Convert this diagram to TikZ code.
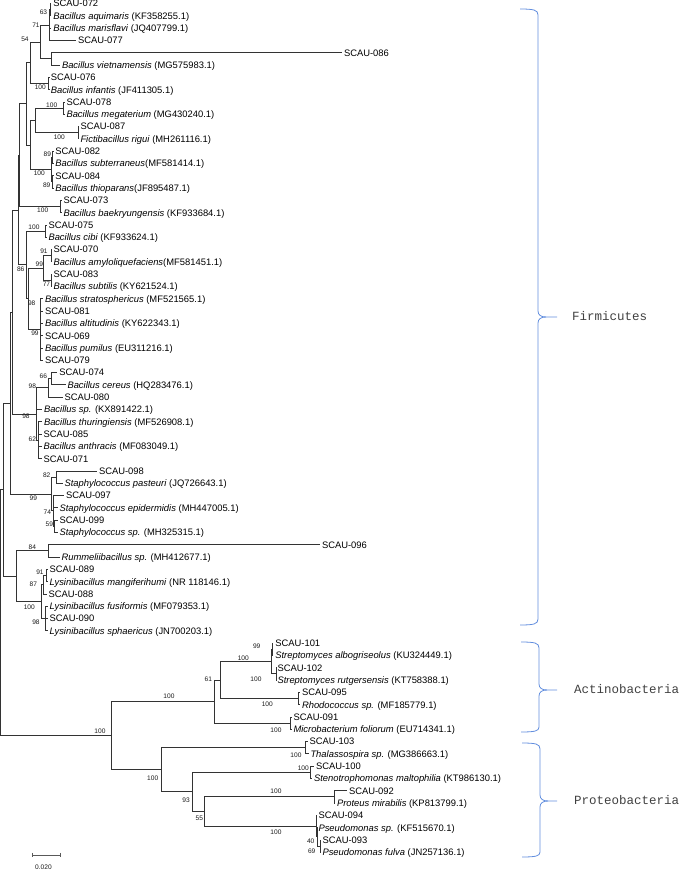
\documentclass[tikz,border=0pt]{standalone}
\usepackage{fontspec}
\setmainfont{Liberation Sans}
\newfontfamily\monof{Liberation Mono}
\definecolor{bracecol}{RGB}{98,142,222}
\newcommand\YY[1]{{3.5+12.3*((#1)-1)}}
\newcommand\lf[4]{\coordinate (#1) at (#2,\YY{#3}); \node[lab] (#1t) at (#1) {#4};}
\newcommand\nd[4]{\coordinate (#1) at (#2,\YY{#3}); \foreach \cc in {#4} {\draw[br] (#1) |- (\cc);}}
\begin{document}
\begin{tikzpicture}[x=1pt,y=-1pt,
 br/.style={draw=black!80,line width=0.8pt},
 lab/.style={font=\fontsize{9.4}{10}\selectfont, anchor=base west, inner sep=0pt, yshift=-3.4pt, xshift=1.8pt, text=black},
 bs/.style={font=\fontsize{6.6}{7}\selectfont, inner sep=0pt, text=black!90},
 brace/.style={draw=bracecol, line width=0.8pt},
 clade/.style={font=\monof\fontsize{12.5}{13}\selectfont, anchor=base west, inner sep=0pt, yshift=-3.6pt, text=black!75}]
\useasboundingbox (0,0) rectangle (680,870);
% ---------------- leaves
\lf{l1}{51.3}{1}{SCAU-072}
\lf{l2}{51.3}{2}{\textit{Bacillus aquimaris} (KF358255.1)}
\lf{l3}{51.3}{3}{\textit{Bacillus marisflavi} (JQ407799.1)}
\lf{l4}{76}{4}{SCAU-077}
\lf{l5}{342}{5}{SCAU-086}
\lf{l6}{60}{6}{\textit{Bacillus vietnamensis} (MG575983.1)}
\lf{l7}{48.8}{7}{SCAU-076}
\lf{l8}{48.8}{8}{\textit{Bacillus infantis} (JF411305.1)}
\lf{l9}{64.5}{9}{SCAU-078}
\lf{l10}{64.5}{10}{\textit{Bacillus megaterium} (MG430240.1)}
\lf{l11}{78.5}{11}{SCAU-087}
\lf{l12}{78.5}{12}{\textit{Fictibacillus rigui} (MH261116.1)}
\lf{l13}{53.3}{13}{SCAU-082}
\lf{l14}{53.3}{14}{\textit{Bacillus subterraneus}(MF581414.1)}
\lf{l15}{53.3}{15}{SCAU-084}
\lf{l16}{53.3}{16}{\textit{Bacillus thioparans}(JF895487.1)}
\lf{l17}{61.5}{17}{SCAU-073}
\lf{l18}{61.5}{18}{\textit{Bacillus baekryungensis} (KF933684.1)}
\lf{l19}{46.5}{19}{SCAU-075}
\lf{l20}{46.5}{20}{\textit{Bacillus cibi} (KF933624.1)}
\lf{l21}{51.5}{21}{SCAU-070}
\lf{l22}{51.5}{22}{\textit{Bacillus amyloliquefaciens}(MF581451.1)}
\lf{l23}{51.5}{23}{SCAU-083}
\lf{l24}{51.5}{24}{\textit{Bacillus subtilis} (KY621524.1)}
\lf{l25}{43}{25}{\textit{Bacillus stratosphericus} (MF521565.1)}
\lf{l26}{43}{26}{SCAU-081}
\lf{l27}{43}{27}{\textit{Bacillus altitudinis} (KY622343.1)}
\lf{l28}{43}{28}{SCAU-069}
\lf{l29}{43}{29}{\textit{Bacillus pumilus} (EU311216.1)}
\lf{l30}{43}{30}{SCAU-079}
\lf{l31}{57.3}{31}{SCAU-074}
\lf{l32}{65.5}{32}{\textit{Bacillus cereus} (HQ283476.1)}
\lf{l33}{62.5}{33}{SCAU-080}
\lf{l34}{42}{34}{\textit{Bacillus sp.} (KX891422.1)}
\lf{l35}{42}{35}{\textit{Bacillus thuringiensis} (MF526908.1)}
\lf{l36}{41.5}{36}{SCAU-085}
\lf{l37}{41.5}{37}{\textit{Bacillus anthracis} (MF083049.1)}
\lf{l38}{41.5}{38}{SCAU-071}
\lf{l39}{97}{39}{SCAU-098}
\lf{l40}{62.5}{40}{\textit{Staphylococcus pasteuri} (JQ726643.1)}
\lf{l41}{64}{41}{SCAU-097}
\lf{l42}{57.5}{42}{\textit{Staphylococcus epidermidis} (MH447005.1)}
\lf{l43}{57.5}{43}{SCAU-099}
\lf{l44}{57.5}{44}{\textit{Staphylococcus sp.} (MH325315.1)}
\lf{l45}{320}{45}{SCAU-096}
\lf{l46}{59.5}{46}{\textit{Rummeliibacillus sp.} (MH412677.1)}
\lf{l47}{47.5}{47}{SCAU-089}
\lf{l48}{47.5}{48}{\textit{Lysinibacillus mangiferihumi} (NR 118146.1)}
\lf{l49}{46.5}{49}{SCAU-088}
\lf{l50}{47.5}{50}{\textit{Lysinibacillus fusiformis} (MF079353.1)}
\lf{l51}{47.5}{51}{SCAU-090}
\lf{l52}{47.5}{52}{\textit{Lysinibacillus sphaericus} (JN700203.1)}
\lf{l53}{273.3}{53}{SCAU-101}
\lf{l54}{273.3}{54}{\textit{Streptomyces albogriseolus} (KU324449.1)}
\lf{l55}{275.5}{55}{SCAU-102}
\lf{l56}{275.5}{56}{\textit{Streptomyces rutgersensis} (KT758388.1)}
\lf{l57}{300}{57}{SCAU-095}
\lf{l58}{300}{58}{\textit{Rhodococcus sp.} (MF185779.1)}
\lf{l59}{291.5}{59}{SCAU-091}
\lf{l60}{291.5}{60}{\textit{Microbacterium foliorum} (EU714341.1)}
\lf{l61}{307.5}{61}{SCAU-103}
\lf{l62}{308.5}{62}{\textit{Thalassospira sp.} (MG386663.1)}
\lf{l63}{314}{63}{SCAU-100}
\lf{l64}{312}{64}{\textit{Stenotrophomonas maltophilia} (KT986130.1)}
\lf{l65}{347}{65}{SCAU-092}
\lf{l66}{335}{66}{\textit{Proteus mirabilis} (KP813799.1)}
\lf{l67}{316.5}{67}{SCAU-094}
\lf{l68}{316.5}{68}{\textit{Pseudomonas sp.} (KF515670.1)}
\lf{l69}{320.5}{69}{SCAU-093}
\lf{l70}{320.5}{70}{\textit{Pseudomonas fulva} (JN257136.1)}
% ---------------- internal nodes (Firmicutes)
\nd{n63}{50}{1.5}{l1,l2}
\nd{nA}{49.2}{2.75}{n63,l3,l4}
\nd{n086}{51.7}{5.5}{l5,l6}
\nd{n71}{40.7}{4.125}{nA,n086}
\nd{n76}{48.5}{7.5}{l7,l8}
\nd{n54}{30.7}{5.8125}{n71,n76}
\nd{n78}{63.3}{9.5}{l9,l10}
\nd{n87}{78}{11.5}{l11,l12}
\nd{n7887}{35}{10.5}{n78,n87}
\nd{n82}{52.7}{13.5}{l13,l14}
\nd{n84}{52.7}{15.5}{l15,l16}
\nd{n100c}{51.5}{14.5}{n82,n84}
\nd{nG23}{30.7}{12.5}{n7887,n100c}
\nd{nX}{26}{9.15625}{n54,nG23}
\nd{n73}{60}{17.5}{l17,l18}
\nd{nTop}{19.3}{13.328}{nX,n73}
\nd{ncibi}{45}{19.5}{l19,l20}
\nd{n91}{51}{21.5}{l21,l22}
\nd{n77}{51}{23.5}{l23,l24}
\nd{n99a}{43.5}{22.5}{n91,n77}
\nd{n99b}{40.7}{27.5}{l25,l26,l27,l28,l29,l30}
\nd{n98a}{28.3}{25}{n99a,n99b}
\nd{n86}{26}{22.25}{ncibi,n98a}
\nd{nV}{18}{17.789}{nTop,n86}
\nd{n66}{51.7}{31.5}{l31,l32}
\nd{n98c}{48.3}{32.25}{n66,l33}
\nd{n62}{38}{36.5}{l35,l36,l37,l38}
\nd{n98d}{36.7}{34.375}{n98c,l34,n62}
\nd{nB1}{12.7}{26.082}{nV,n98d}
\nd{n82s}{56.7}{39.5}{l39,l40}
\nd{n59}{54.5}{43.5}{l43,l44}
\nd{n74}{53.3}{42.25}{l41,l42,n59}
\nd{n99s}{51.7}{40.875}{n82s,n74}
\nd{nB2}{10}{33.479}{nB1,n99s}
\nd{n84r}{48.3}{45.5}{l45,l46}
\nd{n91l}{46}{47.5}{l47,l48}
\nd{n87l}{43.3}{48.25}{n91l,l49}
\nd{n98l}{45.5}{51}{l50,l51,l52}
\nd{n100l}{41}{49.625}{n87l,n98l}
\nd{nRL}{16.7}{47.5625}{n84r,n100l}
\nd{nF}{3.3}{40.52}{nB2,nRL}
% ---------------- Actinobacteria / Proteobacteria
\nd{n99st}{272}{53.5}{l53,l54}
\nd{n100st}{276}{55.5}{l55,l56}
\nd{nStrep}{271}{54.5}{n99st,n100st}
\nd{nRho}{298.3}{57.5}{l57,l58}
\nd{nSR}{220.7}{56}{nStrep,nRho}
\nd{n100m}{290}{59.5}{l59,l60}
\nd{nAct}{214}{57.75}{nSR,n100m}
\nd{n103}{305}{61.5}{l61,l62}
\nd{nSteno}{310.7}{63.5}{l63,l64}
\nd{nProt}{334}{65.5}{l65,l66}
\nd{n69}{320}{69.5}{l69,l70}
\nd{n40}{317.3}{68.75}{l68,n69}
\nd{nPse}{316.3}{67.875}{l67,n40}
\nd{n55}{204}{66.6875}{nProt,nPse}
\nd{n93}{192}{65.09375}{nSteno,n55}
\nd{nPro}{161}{63.297}{n103,n93}
\nd{nO}{111}{60.52}{nAct,nPro}
\nd{nR}{0.8}{50.52}{nF,nO}
% ---------------- bootstrap values
\node[bs] (b1) at (43.5,12) {63};
\node[bs] (b2) at (36,25.5) {71};
\node[bs] (b3) at (25,39.3) {54};
\node[bs] (b4) at (40.3,87.3) {100};
\node[bs] (b5) at (51.7,105) {100};
\node[bs] (b6) at (59.3,137) {100};
\node[bs] (b7) at (47.3,154) {89};
\node[bs] (b8) at (39.3,173.3) {100};
\node[bs] (b9) at (46.7,185) {89};
\node[bs] (b10) at (42.7,210) {100};
\node[bs] (b11) at (34,227.3) {100};
\node[bs] (b12) at (44,251.7) {91};
\node[bs] (b13) at (39.3,264) {99};
\node[bs] (b14) at (20.7,269.3) {86};
\node[bs] (b15) at (46.5,284) {77};
\node[bs] (b16) at (31.7,303.3) {98};
\node[bs] (b17) at (35,333.3) {99};
\node[bs] (b18) at (43.3,376.7) {66};
\node[bs] (b19) at (32.3,386) {98};
\node[bs] (b20) at (26,416.7) {98};
\node[bs] (b21) at (32.3,439) {62};
\node[bs] (b22) at (46.7,475) {82};
\node[bs] (b23) at (33.3,498.3) {99};
\node[bs] (b24) at (47.3,512.7) {74};
\node[bs] (b25) at (49.3,524) {59};
\node[bs] (b26) at (32.3,547.3) {84};
\node[bs] (b27) at (40,572.7) {91};
\node[bs] (b28) at (33.3,584) {87};
\node[bs] (b29) at (29.3,607.7) {100};
\node[bs] (b30) at (36,622.7) {98};
\node[bs] (b31) at (208.3,679) {61};
\node[bs] (b32) at (169,696.7) {100};
\node[bs] (b33) at (100,731.7) {100};
\node[bs] (b34) at (243.3,658.3) {100};
\node[bs] (b35) at (256.7,646.7) {99};
\node[bs] (b36) at (256,679) {100};
\node[bs] (b37) at (267.3,704) {100};
\node[bs] (b38) at (276,730.7) {100};
\node[bs] (b39) at (152.7,778.3) {100};
\node[bs] (b40) at (296,755) {100};
\node[bs] (b41) at (303.3,768.3) {100};
\node[bs] (b42) at (186,800) {93};
\node[bs] (b43) at (199.3,818.3) {55};
\node[bs] (b44) at (276,791.7) {100};
\node[bs] (b45) at (276,832.7) {100};
\node[bs] (b46) at (310.7,841.7) {40};
\node[bs] (b47) at (311.7,851.7) {69};
% ---------------- scale bar
\coordinate (s1) at (32.3,855);
\coordinate (s2) at (60,855);
\draw[br, draw=black!65] (s1) -- (s2);
\draw[br, draw=black!65] ([yshift=2.2pt]s1) -- ([yshift=-2.2pt]s1);
\draw[br, draw=black!65] ([yshift=2.2pt]s2) -- ([yshift=-2.2pt]s2);
\node[bs] (scl) at (43.5,867) {0.020};
% ---------------- braces
\draw[brace] (520,9) .. controls (534,9) and (538,10) .. (538,15) -- (538,311) .. controls (538,315) and (541,317) .. (546,317) -- (557,317);
\draw[brace] (546,317) .. controls (541,317) and (538,319) .. (538,323) -- (538,619) .. controls (538,624) and (534,625) .. (520,625);
\draw[brace] (521,642) .. controls (535,642) and (539,643) .. (539,648) -- (539,684) .. controls (539,688) and (542,690) .. (547,690) -- (557,690);
\draw[brace] (547,690) .. controls (542,690) and (539,692) .. (539,696) -- (539,727) .. controls (539,731) and (535,732) .. (521,732);
\draw[brace] (522,743) .. controls (536,743) and (540,744) .. (540,749) -- (540,795) .. controls (540,799) and (543,801) .. (548,801) -- (557,801);
\draw[brace] (548,801) .. controls (543,801) and (540,803) .. (540,807) -- (540,852) .. controls (540,856) and (536,857) .. (522,857);
\node[clade] (cF) at (572,317) {Firmicutes};
\node[clade] (cA) at (574,690) {Actinobacteria};
\node[clade] (cP) at (574,801) {Proteobacteria};
\end{tikzpicture}
\end{document}
